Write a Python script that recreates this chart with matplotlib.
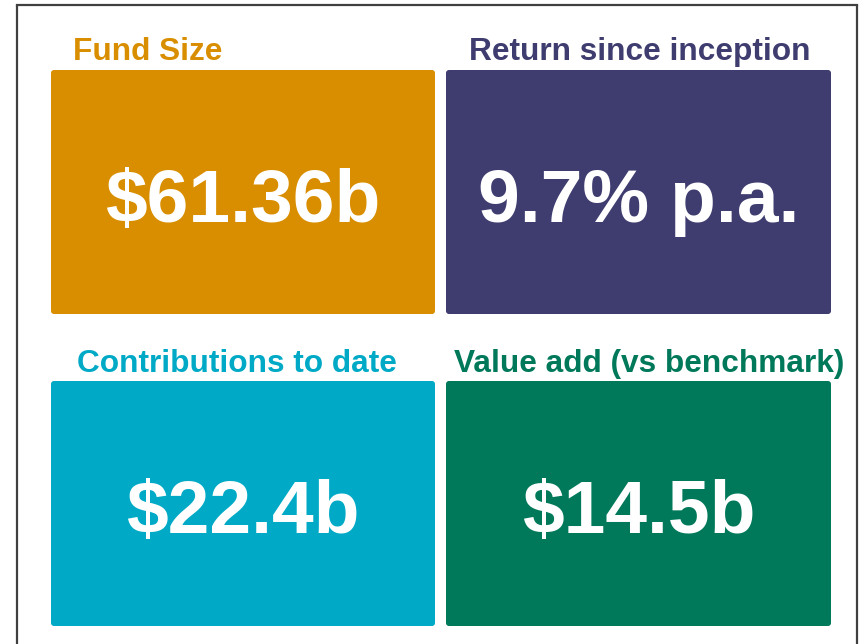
import matplotlib.pyplot as plt
from matplotlib.patches import FancyBboxPatch

titles = ["Fund Size", "Return since inception", "Contributions to date", "Value add (vs benchmark)"]
values = ["$61.36b", "9.7% p.a.", "$22.4b", "$14.5b"]
colours = ["#D98E00", "#3F3D6F", "#00AAC6", "#00785A"]

# tile layout in pixels (x0, y0, x1, y1), title centre x and baselines
boxes = [(51, 70, 435, 314), (446, 70, 831, 314), (51, 381, 435, 626), (446, 381, 831, 626)]
title_x = [148, 640, 237, 649]
title_base = [60, 60, 372, 372]
value_base = [222, 222, 533, 533]

fig = plt.figure(figsize=(8.6, 6.44), dpi=100)
ax = fig.add_axes([0, 0, 1, 1])
ax.set_xlim(0, 860)
ax.set_ylim(644, 0)
ax.axis('off')

font = ['Liberation Sans', 'DejaVu Sans']

for i in range(4):
    x0, y0, x1, y1 = boxes[i]
    p = FancyBboxPatch((x0 + 3, y0 + 3), x1 - x0 - 6, y1 - y0 - 6,
                       boxstyle="round,pad=3", fc=colours[i], ec='none')
    ax.add_patch(p)
    ax.text(title_x[i], title_base[i], titles[i], color=colours[i], fontsize=22.8,
            fontweight='bold', ha='center', va='baseline', family=font)
    ax.text((x0 + x1) / 2, value_base[i], values[i], color='white', fontsize=54,
            fontweight='bold', ha='center', va='baseline', family=font)

# frame round the picture (bottom edge falls outside)
ax.plot([16.5, 16.5], [644, 5], color='#404040', lw=1.6, solid_capstyle='butt')
ax.plot([16.5, 857], [5, 5], color='#404040', lw=1.6)
ax.plot([857, 857], [5, 644], color='#404040', lw=1.6, solid_capstyle='butt')

fig.savefig('out.png', dpi=100)
